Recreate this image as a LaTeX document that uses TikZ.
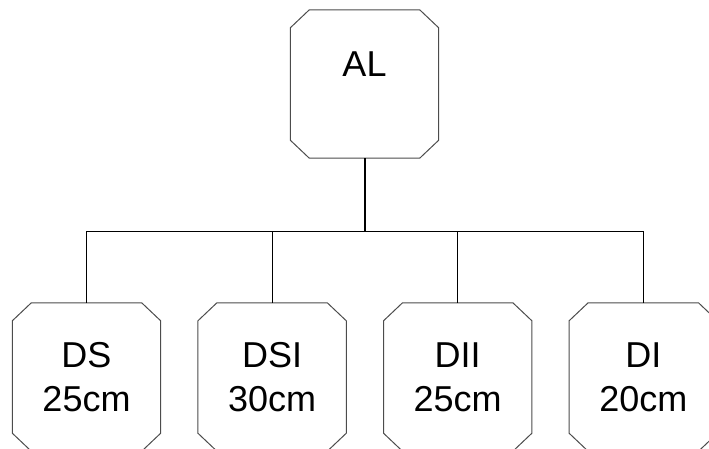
\documentclass[tikz,border=0pt]{standalone}
\usepackage{fontspec}
\setmainfont{Liberation Sans}
\begin{document}
\begin{tikzpicture}[x=1pt,y=-1pt,
  box/.style={rectangle, draw=none, minimum width=148pt, minimum height=148pt,
    inner sep=0pt, font=\fontsize{36pt}{44pt}\selectfont, align=center},
  octline/.style={draw=black!70, line width=1pt, line join=miter},
  lbl/.style={font=\fontsize{36pt}{44pt}\selectfont, inner sep=0pt},
  wire/.style={draw=black, line width=1pt},
  mainwire/.style={draw=black, line width=2pt}]
\newcommand\octobox[1]{%
  \draw[octline] ([xshift=19pt]#1.north west) -- ([xshift=-19pt]#1.north east)
    -- ([yshift=-18pt]#1.north east) -- ([yshift=18pt]#1.south east)
    -- ([xshift=-19pt]#1.south east) -- ([xshift=19pt]#1.south west)
    -- ([yshift=18pt]#1.south west) -- ([yshift=-18pt]#1.north west) -- cycle;}
\useasboundingbox (0,0) rectangle (709,448);
\clip (0,0) rectangle (709,448);
\node[box] (AL) at (364.5,84) {};
\node[lbl, anchor=base] (ALt) at (364.5,76) {AL};
\node[box] (DS) at (86.5,377) {DS\\25cm};
\node[box] (DSI) at (272.1,377) {DSI\\30cm};
\node[box] (DII) at (457.7,377) {DII\\25cm};
\node[box] (DI) at (643.3,377) {DI\\20cm};
\octobox{AL}
\octobox{DS}
\octobox{DSI}
\octobox{DII}
\octobox{DI}
\coordinate (bus) at (364.5,231.5);
\draw[wire] (DS.north) |- (bus) -| (DI.north);
\draw[wire] (DSI.north) -- (DSI.north |- bus);
\draw[wire] (DII.north) -- (DII.north |- bus);
\draw[mainwire] (AL.south) -- (bus);
\end{tikzpicture}
\end{document}
